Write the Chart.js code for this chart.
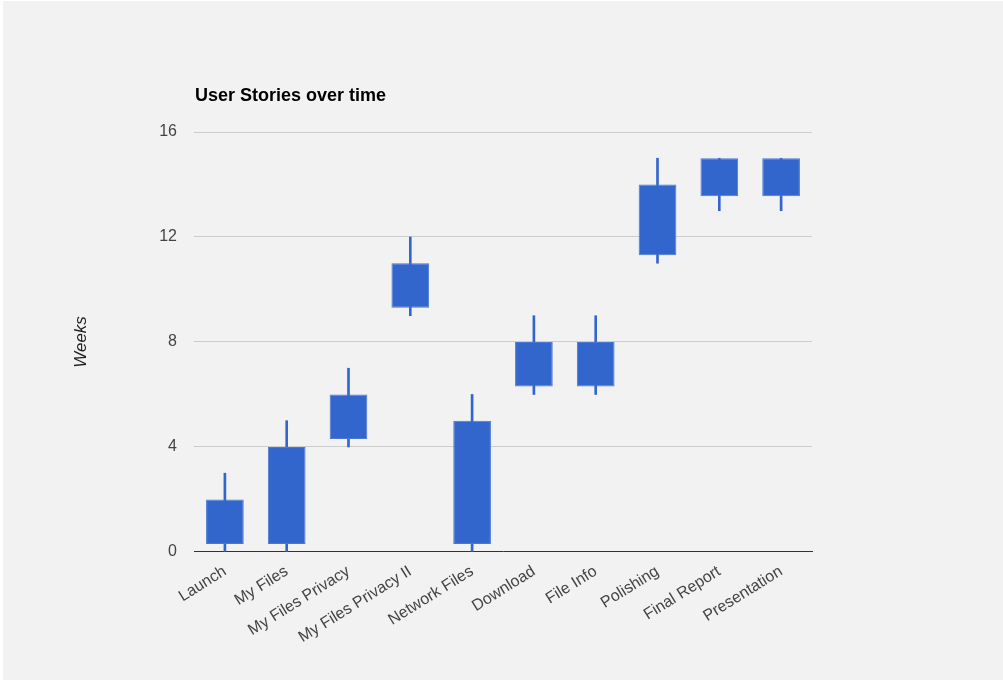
<!DOCTYPE html>
<html>
<head>
<meta charset="utf-8">
<script src="https://cdn.jsdelivr.net/npm/chart.js@4.4.1/dist/chart.umd.min.js"></script>
<style>
  html, body { margin: 0; padding: 0; background: #ffffff; }
  #wrap { position: absolute; left: 3px; top: 1px; width: 1000px; height: 679px; background: #f2f2f2; }
</style>
</head>
<body>
<div id="wrap"><canvas id="chart" width="1000" height="679"></canvas></div>
<script>
// data (weeks)
const stories = ['Launch', 'My Files', 'My Files Privacy', 'My Files Privacy II', 'Network Files',
                 'Download', 'File Info', 'Polishing', 'Final Report', 'Presentation'];
const lowWeeks   = [0,   0,   4,   9,   0,   6,   6,   11,   13,    13];
const openWeeks  = [0.3, 0.3, 4.3, 9.3, 0.3, 6.3, 6.3, 11.3, 13.55, 13.55];
const closeWeeks = [2,   4,   6,   11,  5,   8,   8,   14,   15,    15];
const highWeeks  = [3,   5,   7,   12,  6,   9,   9,   15,   15,    15];
const weekTicks  = [0, 4, 8, 12, 16];

const blue = '#3366cc';
const fontFamily = '"Liberation Sans", Arial, sans-serif';

//title drawn at left of the plot area, like google charts
const titlePlugin = {
    id: 'leftTitle',
    afterDraw(chart) {
        const ctx = chart.ctx;
        ctx.save();
        ctx.font = 'bold 18px ' + fontFamily;
        ctx.fillStyle = '#000';
        ctx.textBaseline = 'alphabetic';
        ctx.fillText('User Stories over time', chart.chartArea.left + 1, 100);
        ctx.restore();
    }
};

const ctx = document.getElementById('chart').getContext('2d');
const chart = new Chart(ctx, {
    type: 'bar',
    data: {
        labels: stories,
        datasets: [{
            label: 'range',
            data: stories.map((s, i) => [lowWeeks[i], highWeeks[i]]),
            backgroundColor: blue,
            barThickness: 2,
            grouped: false,
            order: 2
        }, {
            label: 'box',
            data: stories.map((s, i) => [openWeeks[i], closeWeeks[i]]),
            backgroundColor: blue,
            borderColor: '#4a78d2',
            borderWidth: 1,
            borderSkipped: false,
            categoryPercentage: 1,
            barPercentage: 0.61,
            grouped: false,
            order: 1
        }]
    },
    plugins: [titlePlugin],
    options: {
        responsive: false,
        animation: false,
        layout: { padding: { left: 68, top: 131, right: 191, bottom: 23 } },
        plugins: {
            legend: { display: false },
            tooltip: { enabled: false }
        },
        scales: {
            x: {
                grid: { display: false, drawTicks: false },
                border: { color: '#333333', width: 1 },
                ticks: {
                    color: '#444444',
                    font: { family: fontFamily, size: 16 },
                    maxRotation: 32,
                    minRotation: 32,
                    autoSkip: false,
                    padding: 10
                }
            },
            y: {
                min: 0,
                max: 16,
                afterBuildTicks: (scale) => { scale.ticks = weekTicks.map(v => ({ value: v })); },
                afterFit: (scale) => { scale.width = 123; },
                grid: { color: '#cccccc', drawTicks: false },
                border: { display: false },
                ticks: {
                    color: '#444444',
                    font: { family: fontFamily, size: 16 },
                    padding: 17
                },
                title: {
                    display: true,
                    text: 'Weeks',
                    color: '#222222',
                    font: { family: fontFamily, size: 17, style: 'italic' },
                    padding: 0
                }
            }
        }
    }
});
</script>
</body>
</html>
